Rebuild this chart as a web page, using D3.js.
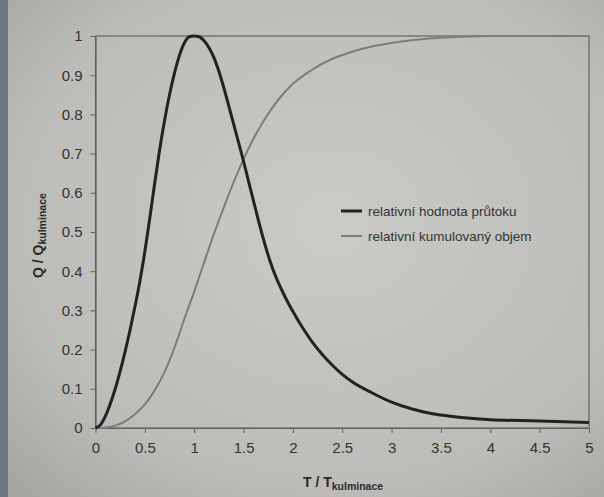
<!DOCTYPE html>
<html lang="cs">
<head>
  <meta charset="UTF-8">
  <title>Relativní hodnota průtoku a kumulovaný objem</title>
  <script src="https://d3js.org/d3.v7.min.js"></script>
  <style>
    body
    {
      margin: 0;
      padding: 0;
      background-color: #bdbdb9;
      font-family: Arial, "Liberation Sans", sans-serif;
    }

    svg
    {
      display: block;
    }
  </style>
</head>
<body>
  <svg width="604" height="497"></svg>
  <script>
    const width = 604;
    const height = 497;

    // relativni hodnota prutoku (T / Tkulminace, Q / Qkulminace)
    const flowT = [0, 0.05, 0.1, 0.15, 0.2, 0.25, 0.3, 0.35, 0.4, 0.45, 0.5, 0.55, 0.6, 0.65, 0.7,
      0.75, 0.8, 0.85, 0.9, 0.95, 1.0, 1.05, 1.1, 1.15, 1.2, 1.25, 1.3, 1.35, 1.4, 1.45, 1.5,
      1.55, 1.6, 1.65, 1.7, 1.75, 1.8, 1.9, 2.0, 2.1, 2.2, 2.3, 2.4, 2.5, 2.6, 2.8, 3.0, 3.2,
      3.4, 3.6, 3.8, 4.0, 4.5, 5.0];
    const flowQ = [0, 0.008, 0.03, 0.062, 0.1, 0.145, 0.195, 0.25, 0.31, 0.375, 0.45, 0.535, 0.625, 0.71, 0.785,
      0.85, 0.905, 0.95, 0.982, 0.998, 1.0, 0.998, 0.988, 0.97, 0.945, 0.91, 0.868, 0.822, 0.775, 0.728, 0.68,
      0.63, 0.58, 0.53, 0.483, 0.44, 0.403, 0.345, 0.297, 0.255, 0.218, 0.187, 0.16, 0.137, 0.118, 0.09, 0.066, 0.049,
      0.037, 0.03, 0.025, 0.021, 0.018, 0.014];

    // relativni kumulovany objem
    const volumeT = [0, 0.1, 0.2, 0.3, 0.4, 0.5, 0.6, 0.7, 0.8, 0.9, 1.0, 1.1, 1.2, 1.3, 1.4, 1.5,
      1.6, 1.7, 1.8, 1.9, 2.0, 2.2, 2.4, 2.6, 2.8, 3.0, 3.2, 3.4, 3.6, 3.8, 4.0, 5.0];
    const volumeV = [0, 0.001, 0.006, 0.017, 0.035, 0.06, 0.096, 0.143, 0.205, 0.278, 0.348, 0.422, 0.495, 0.563, 0.627, 0.686,
      0.738, 0.782, 0.82, 0.852, 0.878, 0.915, 0.942, 0.96, 0.973, 0.982, 0.989, 0.994, 0.997, 0.999, 1.0, 1.0];

    const xTicks = [0, 0.5, 1, 1.5, 2, 2.5, 3, 3.5, 4, 4.5, 5];
    const yTicks = [0, 0.1, 0.2, 0.3, 0.4, 0.5, 0.6, 0.7, 0.8, 0.9, 1];

    const seriesNames = ["relativní hodnota průtoku", "relativní kumulovaný objem"];

    const margin = { top: 36, right: 15, bottom: 69, left: 95.5 };
    const plotW = width - margin.left - margin.right;
    const plotH = height - margin.top - margin.bottom;

    const svg = d3.select("svg");

    // paper background (photo of a printed page)
    const defs = svg.append("defs");
    const grad = defs.append("radialGradient")
      .attr("id", "paper")
      .attr("cx", "55%").attr("cy", "45%").attr("r", "75%");
    grad.append("stop").attr("offset", "0%").attr("stop-color", "#cacac6");
    grad.append("stop").attr("offset", "70%").attr("stop-color", "#bcbcb8");
    grad.append("stop").attr("offset", "100%").attr("stop-color", "#a5a5a2");

    svg.append("rect")
      .attr("width", width)
      .attr("height", height)
      .attr("fill", "url(#paper)");

    svg.append("rect")
      .attr("width", 8)
      .attr("height", height)
      .attr("fill", "#6f7580");

    const g = svg.append("g")
      .attr("transform", `translate(${margin.left},${margin.top})`);

    const x = d3.scaleLinear().domain([0, 5]).range([0, plotW]);
    const y = d3.scaleLinear().domain([0, 1]).range([plotH, 0]);

    // frame
    g.append("rect")
      .attr("width", plotW)
      .attr("height", plotH)
      .attr("fill", "none")
      .attr("stroke", "#626262")
      .attr("stroke-width", 1.2);

    const xAxis = g.append("g")
      .attr("transform", `translate(0,${plotH})`)
      .call(d3.axisBottom(x).tickValues(xTicks).tickFormat(d3.format("")).tickSize(5).tickSizeOuter(0).tickPadding(9));

    const yAxis = g.append("g")
      .call(d3.axisLeft(y).tickValues(yTicks).tickFormat(d3.format("")).tickSize(5).tickSizeOuter(0).tickPadding(8));

    [xAxis, yAxis].forEach(a => {
      a.select(".domain").attr("stroke", "#626262").attr("stroke-width", 1.2);
      a.selectAll(".tick line").attr("stroke", "#626262");
      a.selectAll(".tick text")
        .attr("fill", "#333")
        .style("font-family", "Arial, 'Liberation Sans', sans-serif")
        .style("font-size", "15px");
    });

    const flowData = flowT.map((t, i) => ({ t, v: flowQ[i] }));
    const volumeData = volumeT.map((t, i) => ({ t, v: volumeV[i] }));

    const line = d3.line()
      .x(d => x(d.t))
      .y(d => y(d.v))
      .curve(d3.curveMonotoneX);

    g.append("path")
      .datum(volumeData)
      .attr("fill", "none")
      .attr("stroke", "#7c7c7c")
      .attr("stroke-width", 2)
      .attr("d", line);

    g.append("path")
      .datum(flowData)
      .attr("fill", "none")
      .attr("stroke", "#222")
      .attr("stroke-width", 3)
      .attr("stroke-linejoin", "round")
      .attr("d", line);

    // legend
    const legendColors = ["#222", "#7c7c7c"];
    const legendWidths = [3, 2];
    const legend = svg.append("g").attr("transform", "translate(341,211)");
    seriesNames.forEach((name, i) => {
      const item = legend.append("g").attr("transform", `translate(0,${i * 25})`);
      item.append("line")
        .attr("x1", 0).attr("x2", 21)
        .attr("stroke", legendColors[i])
        .attr("stroke-width", legendWidths[i]);
      item.append("text")
        .attr("x", 27)
        .attr("dy", "0.35em")
        .attr("fill", "#333")
        .style("font-size", "13.5px")
        .text(name);
    });

    // axis titles
    const xTitle = svg.append("text")
      .attr("x", 303)
      .attr("y", 487)
      .attr("fill", "#2a2a2a")
      .style("font-weight", "bold")
      .style("font-size", "14px");
    xTitle.append("tspan").text("T / T");
    xTitle.append("tspan").attr("dy", 3).style("font-size", "10.5px").text("kulminace");

    const yTitle = svg.append("text")
      .attr("transform", "translate(43,278) rotate(-90)")
      .attr("fill", "#2a2a2a")
      .style("font-weight", "bold")
      .style("font-size", "14px");
    yTitle.append("tspan").text("Q / Q");
    yTitle.append("tspan").attr("dy", 3).style("font-size", "10.5px").text("kulminace");
  </script>
</body>
</html>
